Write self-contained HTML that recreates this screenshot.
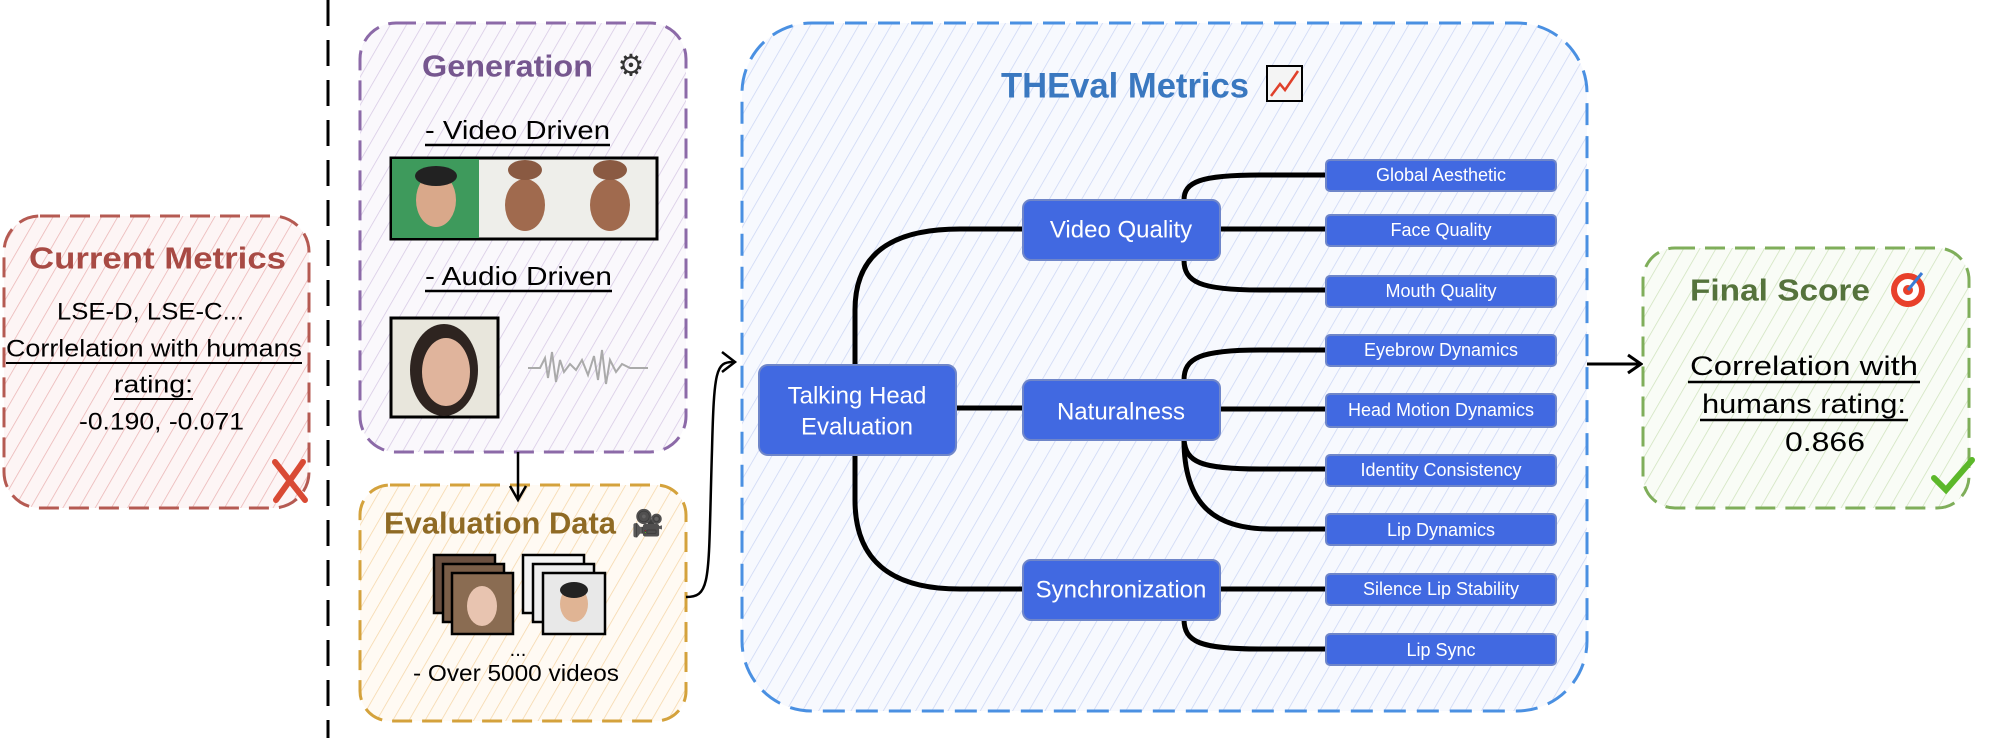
<!DOCTYPE html>
<html><head><meta charset="utf-8"><style>
html,body{margin:0;padding:0;background:#fff}
svg{display:block}
text{font-family:"Liberation Sans",sans-serif}
.n{font-family:"Liberation Sans",sans-serif;fill:#fff;text-anchor:middle;dominant-baseline:central}
.t{font-family:"Liberation Sans",sans-serif;dominant-baseline:central;fill:#000}
.c{fill:none;stroke:#000;stroke-width:5}
.bx{fill:#4169e1;stroke:#6f86c9;stroke-width:2}
</style></head><body>
<svg width="1992" height="738" viewBox="0 0 1992 738" xmlns="http://www.w3.org/2000/svg">
<defs>
<pattern id="hr" width="14" height="14" patternUnits="userSpaceOnUse" patternTransform="rotate(30)"><rect width="14" height="14" fill="#fdf5f5"/><line x1="0" y1="0" x2="0" y2="14" stroke="#eab3b3" stroke-width="1.5"/></pattern>
<pattern id="hp" width="14" height="14" patternUnits="userSpaceOnUse" patternTransform="rotate(30)"><rect width="14" height="14" fill="#faf8fc"/><line x1="0" y1="0" x2="0" y2="14" stroke="#d6c8e4" stroke-width="1.5"/></pattern>
<pattern id="ho" width="14" height="14" patternUnits="userSpaceOnUse" patternTransform="rotate(30)"><rect width="14" height="14" fill="#fffaf3"/><line x1="0" y1="0" x2="0" y2="14" stroke="#f5d6a8" stroke-width="1.5"/></pattern>
<pattern id="hb" width="14" height="14" patternUnits="userSpaceOnUse" patternTransform="rotate(30)"><rect width="14" height="14" fill="#f7f9fe"/><line x1="0" y1="0" x2="0" y2="14" stroke="#cbd6f4" stroke-width="1.5"/></pattern>
<pattern id="hg" width="14" height="14" patternUnits="userSpaceOnUse" patternTransform="rotate(30)"><rect width="14" height="14" fill="#f9fcf6"/><line x1="0" y1="0" x2="0" y2="14" stroke="#cfe3bd" stroke-width="1.5"/></pattern>
</defs>

<line x1="328" y1="0" x2="328" y2="738" stroke="#000" stroke-width="3" stroke-dasharray="26,14"/>

<!-- Current Metrics -->
<rect x="4" y="216" width="305" height="292" rx="36" fill="url(#hr)" stroke="#b55a52" stroke-width="3" stroke-dasharray="20,10"/>
<text x="29" y="258" dominant-baseline="central" font-size="31" font-weight="bold" fill="#a84a44" textLength="257" lengthAdjust="spacingAndGlyphs">Current Metrics</text>
<text class="t" x="57" y="312" font-size="24" textLength="187" lengthAdjust="spacingAndGlyphs">LSE-D, LSE-C...</text>
<text class="t" x="6" y="349" font-size="24" textLength="296" lengthAdjust="spacingAndGlyphs">Corrlelation with humans</text>
<line x1="6" y1="363" x2="302" y2="363" stroke="#000" stroke-width="2"/>
<text class="t" x="114" y="385" font-size="24" textLength="79" lengthAdjust="spacingAndGlyphs">rating:</text>
<line x1="114" y1="399" x2="193" y2="399" stroke="#000" stroke-width="2"/>
<text class="t" x="79" y="422" font-size="24" textLength="165" lengthAdjust="spacingAndGlyphs">-0.190, -0.071</text>
<path d="M275,462 L305,500 M303,462 L276,500" stroke="#d94a34" stroke-width="6" stroke-linecap="round"/>

<!-- Generation -->
<rect x="360" y="23" width="326" height="429" rx="36" fill="url(#hp)" stroke="#8c6aa8" stroke-width="3" stroke-dasharray="20,10"/>
<text x="422" y="66" dominant-baseline="central" font-size="31" font-weight="bold" fill="#76578f" textLength="171" lengthAdjust="spacingAndGlyphs">Generation</text>
<text x="631" y="66" text-anchor="middle" dominant-baseline="central" font-size="30" fill="#333">⚙</text>
<text class="t" x="425" y="130" font-size="26" textLength="185" lengthAdjust="spacingAndGlyphs">- Video Driven</text>
<line x1="425" y1="145" x2="610" y2="145" stroke="#000" stroke-width="2.5"/>
<rect x="391" y="158" width="266" height="81" fill="#eeeeea" stroke="#000" stroke-width="3"/>
<rect x="392" y="159" width="87" height="79" fill="#3e9a5c"/>
<ellipse cx="436" cy="200" rx="20" ry="27" fill="#d9a88a"/><ellipse cx="436" cy="176" rx="21" ry="10" fill="#222"/>
<ellipse cx="525" cy="205" rx="20" ry="26" fill="#a06a4e"/><ellipse cx="525" cy="170" rx="17" ry="10" fill="#8a5a42"/>
<ellipse cx="610" cy="205" rx="20" ry="26" fill="#a06a4e"/><ellipse cx="610" cy="170" rx="17" ry="10" fill="#8a5a42"/>
<text class="t" x="425" y="276" font-size="26" textLength="187" lengthAdjust="spacingAndGlyphs">- Audio Driven</text>
<line x1="425" y1="291" x2="612" y2="291" stroke="#000" stroke-width="2.5"/>
<rect x="391" y="318" width="107" height="99" fill="#e8e6dc" stroke="#000" stroke-width="3"/>
<ellipse cx="444" cy="370" rx="34" ry="46" fill="#2e2420"/><ellipse cx="446" cy="372" rx="24" ry="34" fill="#e0b49c"/>
<path d="M528,368 L540,368 545,358 548,378 552,352 556,382 560,360 564,372 570,364 576,370 582,360 588,375 594,356 598,380 602,350 606,384 610,360 616,372 622,364 630,368 648,368" fill="none" stroke="#aaa" stroke-width="2"/>

<!-- Evaluation Data -->
<rect x="360" y="485" width="326" height="236" rx="30" fill="url(#ho)" stroke="#d4a23c" stroke-width="3" stroke-dasharray="20,10"/>
<text x="384" y="523" dominant-baseline="central" font-size="31" font-weight="bold" fill="#8f6a24" textLength="232" lengthAdjust="spacingAndGlyphs">Evaluation Data</text>
<text x="648" y="523" text-anchor="middle" dominant-baseline="central" font-size="26">🎥</text>
<g stroke="#000" stroke-width="2.5">
<rect x="434" y="555" width="61" height="58" fill="#6b5040"/>
<rect x="443" y="564" width="61" height="58" fill="#7a5e48"/>
<rect x="452" y="573" width="61" height="61" fill="#8a6c52"/>
<rect x="523" y="555" width="61" height="58" fill="#f4f4f4"/>
<rect x="533" y="564" width="61" height="58" fill="#eee"/>
<rect x="543" y="573" width="62" height="61" fill="#e8e8e8"/>
</g>
<ellipse cx="482" cy="606" rx="15" ry="20" fill="#e8c4b0"/>
<ellipse cx="574" cy="604" rx="14" ry="18" fill="#e0b494"/><ellipse cx="574" cy="590" rx="14" ry="8" fill="#222"/>
<text class="t" x="518" y="650" font-size="20" text-anchor="middle">...</text>
<text class="t" x="413" y="673" font-size="23" textLength="206" lengthAdjust="spacingAndGlyphs">- Over 5000 videos</text>

<!-- arrow down (drawn on top) -->
<line x1="518" y1="452" x2="518" y2="498" stroke="#000" stroke-width="2.5"/>
<path d="M510,486 L518,500 L526,486" fill="none" stroke="#000" stroke-width="2.5"/>

<!-- curved arrow eval -> THEval -->
<path d="M686,597 C712,597 708,580 712,450 C714,370 716,362 733,362" fill="none" stroke="#000" stroke-width="2.5"/>
<path d="M722,352 L735,362 L722,372" fill="none" stroke="#000" stroke-width="2.5"/>

<!-- THEval Metrics -->
<rect x="742" y="23" width="845" height="688" rx="70" fill="url(#hb)" stroke="#4a90e2" stroke-width="3" stroke-dasharray="22,11"/>
<text x="1001" y="86" dominant-baseline="central" font-size="35" font-weight="bold" fill="#3a78c0" textLength="248" lengthAdjust="spacingAndGlyphs">THEval Metrics</text>
<rect x="1267" y="66" width="35" height="35" fill="#f4f4f4" stroke="#000" stroke-width="2"/>
<path d="M1271,96 L1280,84 L1285,90 L1298,71" fill="none" stroke="#e0402a" stroke-width="2.5"/>

<path class="c" d="M855,365 L855,310 C855,255 890,229 960,229 L1024,229"/>
<path class="c" d="M855,455 L855,500 C855,560 890,589 960,589 L1024,589"/>
<path class="c" d="M956,408 L1024,408"/>
<path class="c" d="M1184,200 C1184,182 1200,175 1260,175 L1328,175"/>
<path class="c" d="M1220,229 L1328,229"/>
<path class="c" d="M1184,260 C1184,282 1200,290 1260,290 L1328,290"/>
<path class="c" d="M1184,380 C1184,358 1200,350 1260,350 L1328,350"/>
<path class="c" d="M1220,409 L1328,409"/>
<path class="c" d="M1184,440 C1186,462 1200,469 1260,469 L1328,469"/>
<path class="c" d="M1184,440 C1184,505 1215,529 1270,529 L1328,529"/>
<path class="c" d="M1220,589 L1328,589"/>
<path class="c" d="M1184,619 C1184,642 1200,649 1260,649 L1328,649"/>

<rect class="bx" x="759" y="365" width="197" height="90" rx="9"/>
<text class="n" x="857" y="396" font-size="24">Talking Head</text>
<text class="n" x="857" y="427" font-size="24">Evaluation</text>
<rect class="bx" x="1023" y="200" width="197" height="60" rx="8"/>
<text class="n" x="1121" y="230" font-size="24">Video Quality</text>
<rect class="bx" x="1023" y="380" width="197" height="60" rx="8"/>
<text class="n" x="1121" y="412" font-size="24">Naturalness</text>
<rect class="bx" x="1023" y="560" width="197" height="60" rx="8"/>
<text class="n" x="1121" y="590" font-size="24">Synchronization</text>

<g>
<rect class="bx" x="1326" y="160" width="230" height="31" rx="4"/><text class="n" x="1441" y="175" font-size="18">Global Aesthetic</text>
<rect class="bx" x="1326" y="215" width="230" height="31" rx="4"/><text class="n" x="1441" y="230" font-size="18">Face Quality</text>
<rect class="bx" x="1326" y="276" width="230" height="31" rx="4"/><text class="n" x="1441" y="291" font-size="18">Mouth Quality</text>
<rect class="bx" x="1326" y="335" width="230" height="31" rx="4"/><text class="n" x="1441" y="350" font-size="18">Eyebrow Dynamics</text>
<rect class="bx" x="1326" y="394" width="230" height="33" rx="4"/><text class="n" x="1441" y="410" font-size="18">Head Motion Dynamics</text>
<rect class="bx" x="1326" y="455" width="230" height="31" rx="4"/><text class="n" x="1441" y="470" font-size="18">Identity Consistency</text>
<rect class="bx" x="1326" y="514" width="230" height="31" rx="4"/><text class="n" x="1441" y="530" font-size="18">Lip Dynamics</text>
<rect class="bx" x="1326" y="574" width="230" height="31" rx="4"/><text class="n" x="1441" y="589" font-size="18">Silence Lip Stability</text>
<rect class="bx" x="1326" y="634" width="230" height="31" rx="4"/><text class="n" x="1441" y="650" font-size="18">Lip Sync</text>
</g>

<line x1="1587" y1="364" x2="1640" y2="364" stroke="#000" stroke-width="3"/>
<path d="M1628,355 L1641,364 L1628,373" fill="none" stroke="#000" stroke-width="3"/>

<!-- Final Score -->
<rect x="1643" y="248" width="326" height="260" rx="32" fill="url(#hg)" stroke="#7fae5a" stroke-width="3" stroke-dasharray="20,10"/>
<text x="1690" y="290" dominant-baseline="central" font-size="31" font-weight="bold" fill="#55733c" textLength="180" lengthAdjust="spacingAndGlyphs">Final Score</text>
<circle cx="1908" cy="290" r="17" fill="#e8402a"/><circle cx="1908" cy="290" r="11" fill="#fff"/><circle cx="1908" cy="290" r="5" fill="#e8402a"/>
<line x1="1908" y1="290" x2="1922" y2="273" stroke="#3a7bd5" stroke-width="3"/>
<text class="t" x="1690" y="366" font-size="27" textLength="228" lengthAdjust="spacingAndGlyphs">Correlation with</text>
<line x1="1688" y1="382" x2="1920" y2="382" stroke="#000" stroke-width="2.5"/>
<text class="t" x="1702" y="404" font-size="27" textLength="204" lengthAdjust="spacingAndGlyphs">humans rating:</text>
<line x1="1700" y1="420" x2="1908" y2="420" stroke="#000" stroke-width="2.5"/>
<text class="t" x="1785" y="442" font-size="27" textLength="80" lengthAdjust="spacingAndGlyphs">0.866</text>
<path d="M1934,478 L1946,490 L1972,460" fill="none" stroke="#5cb82a" stroke-width="6" stroke-linecap="round"/>
</svg>
</body></html>
